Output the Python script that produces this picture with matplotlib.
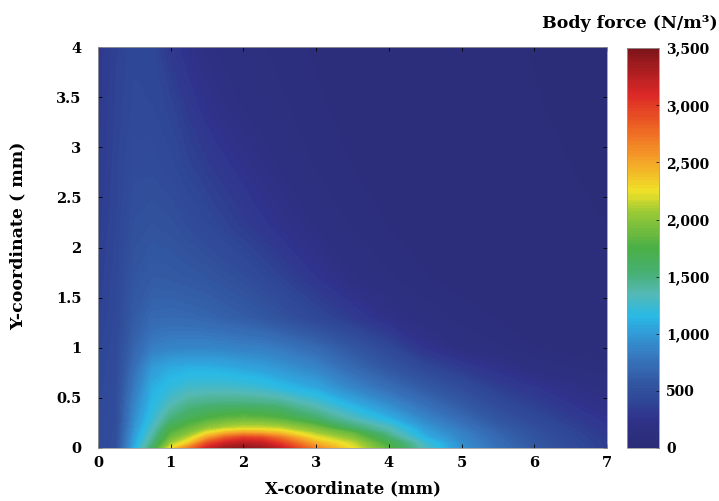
import numpy as np
import matplotlib
matplotlib.use("Agg")
import matplotlib.pyplot as plt
from matplotlib.colors import LinearSegmentedColormap
from matplotlib.ticker import FuncFormatter

plt.rcParams['font.family'] = ['DejaVu Serif']
plt.rcParams['font.weight'] = 'bold'

x_mm = [0, 0.25, 0.5, 0.75, 1, 1.25, 1.5, 1.75, 2, 2.25, 2.5, 3, 3.5, 4, 4.5, 5, 5.5, 6, 6.5, 7]
y_mm = [0, 0.05, 0.1, 0.15, 0.2, 0.3, 0.45, 0.6, 0.8, 1.0, 1.3, 1.7, 2.2, 2.8, 3.4, 4.0]

# body force (N/m^3), one row per y value
force_y000 = [430, 500, 1100, 1600, 2250, 2700, 3150, 3350, 3420, 3350, 3200, 2650, 2250, 1800, 1300, 950, 740, 580, 450, 340]
force_y005 = [430, 495, 1050, 1500, 2050, 2350, 2900, 3150, 3250, 3200, 3000, 2450, 2150, 1700, 1250, 920, 720, 560, 435, 330]
force_y010 = [430, 490, 1020, 1420, 1900, 2150, 2550, 2850, 3000, 2950, 2750, 2250, 2000, 1550, 1120, 880, 690, 540, 420, 320]
force_y015 = [430, 485, 990, 1360, 1800, 1980, 2250, 2450, 2550, 2500, 2400, 2080, 1850, 1420, 1050, 850, 660, 515, 400, 305]
force_y020 = [430, 480, 960, 1300, 1700, 1860, 2020, 2120, 2170, 2170, 2130, 1930, 1560, 1330, 990, 800, 620, 490, 380, 290]
force_y030 = [430, 475, 920, 1220, 1500, 1650, 1750, 1820, 1850, 1830, 1780, 1550, 1320, 1100, 870, 700, 540, 430, 330, 250]
force_y045 = [420, 470, 870, 1150, 1320, 1450, 1480, 1500, 1500, 1480, 1450, 1290, 1080, 900, 720, 580, 440, 350, 265, 200]
force_y060 = [410, 465, 810, 1100, 1200, 1270, 1280, 1280, 1260, 1230, 1170, 1060, 880, 730, 590, 470, 350, 280, 210, 160]
force_y080 = [400, 455, 740, 1000, 1080, 1100, 1100, 1080, 1050, 1020, 970, 870, 700, 560, 420, 320, 240, 150, 125, 110]
force_y100 = [390, 445, 670, 830, 870, 880, 880, 870, 850, 840, 800, 700, 560, 420, 260, 160, 130, 100, 85, 70]
force_y130 = [370, 430, 600, 690, 700, 690, 670, 640, 610, 570, 520, 420, 320, 220, 145, 115, 97, 82, 70, 60]
force_y170 = [355, 415, 550, 600, 590, 570, 550, 515, 480, 430, 380, 275, 180, 130, 102, 86, 75, 66, 58, 52]
force_y220 = [340, 400, 505, 530, 510, 470, 430, 385, 340, 295, 250, 170, 122, 100, 85, 75, 66, 60, 55, 50]
force_y280 = [320, 390, 465, 465, 435, 385, 335, 290, 245, 205, 170, 122, 100, 85, 75, 67, 60, 55, 50, 46]
force_y340 = [310, 380, 435, 425, 385, 310, 245, 200, 170, 150, 132, 105, 88, 76, 68, 61, 56, 51, 47, 43]
force_y400 = [300, 370, 415, 405, 305, 235, 185, 160, 142, 128, 115, 95, 82, 72, 64, 58, 53, 49, 45, 42]

force = np.array([force_y000, force_y005, force_y010, force_y015, force_y020, force_y030,
                  force_y045, force_y060, force_y080, force_y100, force_y130, force_y170,
                  force_y220, force_y280, force_y340, force_y400])

# colour stops taken from the colour bar
cb_values = [0, 150, 250, 400, 550, 800, 1000, 1150, 1350, 1550, 1750, 2050, 2250, 2550, 2850, 3100, 3500]
cb_colors = ['#2b2d78', '#2d2f80', '#30328c', '#2f4696', '#3255a0', '#3778be', '#329bd7', '#28b9e6',
             '#55b9b4', '#46af6e', '#4baf46', '#96c837', '#f0e128', '#f59b28', '#eb5a23', '#dc2828', '#7d1419']
jet_like = LinearSegmentedColormap.from_list(
    'bodyforce', list(zip(np.array(cb_values) / 3500.0, cb_colors)))

fig = plt.figure(figsize=(7.19, 5.01), dpi=100)
ax = fig.add_axes([0.1363, 0.1058, 0.708, 0.800])
cax = fig.add_axes([0.872, 0.1058, 0.0445, 0.798])

levels = np.linspace(0, 3500, 141)
cs = ax.contourf(x_mm, y_mm, force, levels=levels, cmap=jet_like)

ax.set_xlim(0, 7)
ax.set_ylim(0, 4)
ax.set_xticks(range(0, 8))
ax.set_yticks(np.arange(0, 4.01, 0.5))
ax.yaxis.set_major_formatter(FuncFormatter(lambda v, p: '%g' % v))
ax.tick_params(direction='in', top=True, right=True, length=3, width=0.6,
               labelsize=10.5)
ax.tick_params(axis='x', pad=6)
ax.tick_params(axis='y', pad=12)
for s in ax.spines.values():
    s.set_linewidth(0.6)
    s.set_color('#999999')

ax.set_xlabel('X-coordinate (mm)', fontsize=12, fontweight='bold', labelpad=7)
ax.set_ylabel('Y-coordinate ( mm)', fontsize=12.5, fontweight='bold')
ax.yaxis.set_label_coords(-0.14, 0.53)

cb = fig.colorbar(cs, cax=cax, ticks=np.arange(0, 3501, 500))
cb.ax.yaxis.set_major_formatter(FuncFormatter(lambda v, p: '{:,.0f}'.format(v)))
cb.ax.tick_params(direction='in', length=2, width=0.5, labelsize=10, pad=5)
cb.outline.set_linewidth(0.6)
cb.outline.set_edgecolor('#999999')
fig.text(0.998, 0.954, 'Body force (N/m\u00b3)', ha='right', va='center',
         fontsize=12.5, fontweight='bold')

fig.savefig('out.png', dpi=100)
